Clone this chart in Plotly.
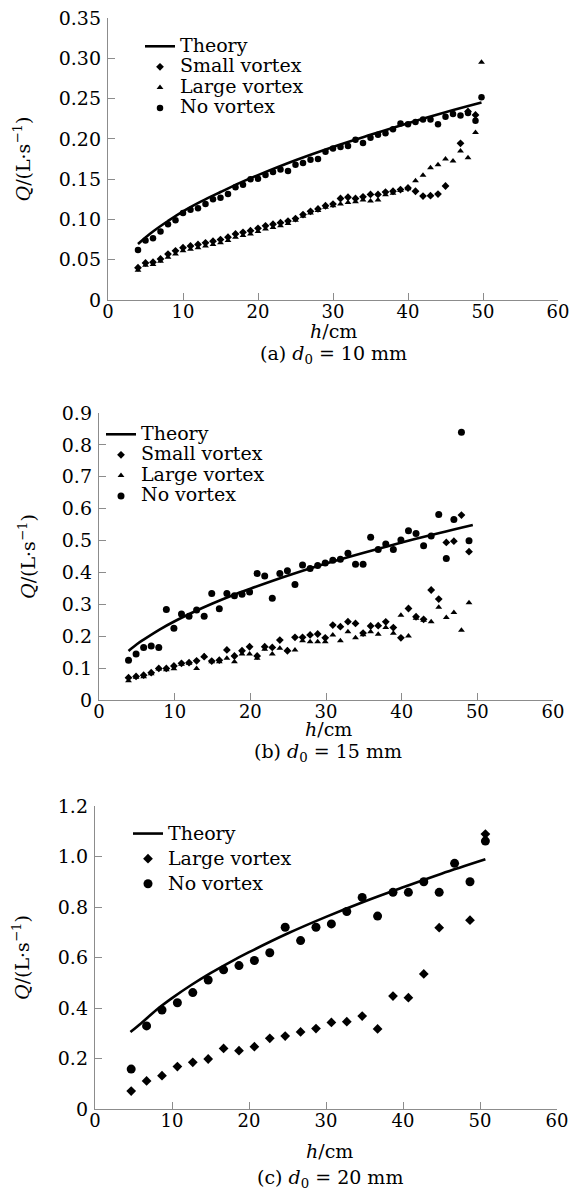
import plotly.graph_objects as go

# ---------------- Panel (a): d0 = 10 mm ----------------
theory_a_h = [4, 5, 6, 8, 10, 12.5, 15, 17.5, 20, 25, 30, 35, 40, 45, 49.8]
theory_a_q = [0.0694, 0.0776, 0.085, 0.098, 0.110, 0.1227, 0.134, 0.145, 0.155,
              0.1735, 0.190, 0.205, 0.2195, 0.233, 0.245]

novortex_a_h = [4, 5, 6, 7, 8, 9, 10, 11, 12, 13, 14, 15, 16, 17, 18, 19, 20, 21, 22, 23,
                24, 25, 26, 27, 28, 29, 30, 31, 32, 33, 34, 35, 36, 37, 38, 39, 40, 41, 42,
                43, 44, 45, 46, 47, 48, 49, 49.8]
novortex_a_q = [0.062, 0.074, 0.0766, 0.085, 0.094, 0.099, 0.108, 0.112, 0.114, 0.119,
                0.125, 0.127, 0.1315, 0.140, 0.143, 0.150, 0.1505, 0.155, 0.159, 0.162,
                0.160, 0.168, 0.170, 0.174, 0.175, 0.184, 0.188, 0.190, 0.191, 0.199,
                0.195, 0.2015, 0.205, 0.207, 0.212, 0.219, 0.218, 0.221, 0.224, 0.224,
                0.218, 0.2275, 0.231, 0.229, 0.232, 0.2225, 0.2515]

small_a_h = [4, 5, 6, 7, 8, 9, 10, 11, 12, 13, 14, 15, 16, 17, 18, 19, 20, 21, 22, 23,
             24, 25, 26, 27, 28, 29, 30, 31, 32, 33, 34, 35, 36, 37, 38, 39, 40, 41, 42,
             43, 44, 45, 47, 48, 49]
small_a_q = [0.040, 0.046, 0.047, 0.051, 0.057, 0.061, 0.065, 0.067, 0.069, 0.071,
             0.073, 0.075, 0.078, 0.082, 0.084, 0.086, 0.089, 0.092, 0.094, 0.096,
             0.098, 0.101, 0.106, 0.110, 0.113, 0.117, 0.119, 0.126, 0.1275, 0.126,
             0.128, 0.131, 0.131, 0.134, 0.135, 0.137, 0.139, 0.135, 0.129, 0.1295,
             0.1315, 0.1415, 0.1945, 0.234, 0.2296]

large_a_h = [4, 5, 6, 7, 8, 9, 10, 11, 12, 13, 14, 15, 16, 17, 18, 19, 20, 21, 22, 23,
             24, 25, 26, 27, 28, 29, 30, 31, 32, 33, 34, 35, 36, 37, 38, 39, 40, 41, 42,
             43, 44, 45, 46, 47, 48, 49, 49.8]
large_a_q = [0.037, 0.043, 0.044, 0.048, 0.053, 0.057, 0.061, 0.063, 0.065, 0.067,
             0.069, 0.071, 0.074, 0.078, 0.080, 0.082, 0.085, 0.088, 0.090, 0.092,
             0.095, 0.099, 0.104, 0.108, 0.111, 0.115, 0.117, 0.119, 0.121, 0.122,
             0.124, 0.123, 0.124, 0.1306, 0.1325, 0.136, 0.138, 0.148, 0.1547, 0.164,
             0.168, 0.175, 0.1725, 0.185, 0.1766, 0.208, 0.295]

# ---------------- Panel (b): d0 = 15 mm ----------------
theory_b_h = [3.9, 5, 6, 8, 10, 12.5, 15, 17.5, 20, 25, 30, 35, 40, 45, 49.4]
theory_b_q = [0.154, 0.175, 0.191, 0.221, 0.247, 0.276, 0.3025, 0.327, 0.349, 0.3905,
              0.428, 0.462, 0.494, 0.524, 0.549]

hb = [3.9, 4.9, 5.9, 6.9, 7.9, 8.9, 9.9, 10.9, 11.9, 12.9, 13.9, 14.9, 15.9, 16.9,
      17.9, 18.9, 19.9, 20.9, 21.9, 22.9, 23.9, 24.9, 25.9, 26.9, 27.9, 28.9, 29.9,
      30.9, 31.9, 32.9, 33.9, 34.9, 35.9, 36.9, 37.9, 38.9, 39.9, 40.9, 41.9, 42.9,
      43.9, 44.9, 45.9, 46.9, 47.9, 48.9]
novortex_b_q = [0.125, 0.144, 0.165, 0.169, 0.165, 0.284, 0.225, 0.270, 0.263, 0.282,
                0.263, 0.334, 0.286, 0.334, 0.327, 0.332, 0.3386, 0.397, 0.389, 0.319,
                0.397, 0.405, 0.362, 0.423, 0.412, 0.422, 0.430, 0.438, 0.441, 0.460,
                0.426, 0.426, 0.510, 0.472, 0.489, 0.472, 0.5015, 0.531, 0.522, 0.484,
                0.514, 0.582, 0.444, 0.566, 0.840, 0.499]
small_b_q = [0.070, 0.074, 0.078, 0.0856, 0.099, 0.099, 0.1066, 0.115, 0.117, 0.123,
             0.136, 0.122, 0.125, 0.157, 0.138, 0.1545, 0.167, 0.138, 0.167, 0.165,
             0.188, 0.1545, 0.1965, 0.1965, 0.204, 0.207, 0.195, 0.235, 0.230, 0.2455,
             0.240, 0.210, 0.232, 0.233, 0.245, 0.227, 0.195, 0.287, 0.261, 0.253,
             0.345, 0.3166, 0.494, 0.498, 0.580, 0.465]
large_b_q = [0.060, 0.071, 0.073, 0.082, 0.097, 0.095, 0.098, 0.112, 0.115, 0.099,
             0.138, 0.120, 0.120, 0.131, 0.120, 0.144, 0.144, 0.131, 0.159, 0.144,
             0.162, 0.157, 0.157, 0.186, 0.183, 0.183, 0.183, 0.204, 0.186, 0.214,
             0.195, 0.205, 0.214, 0.206, 0.227, 0.209, 0.266, 0.2005, 0.256, 0.250,
             0.2455, 0.2905, 0.259, 0.274, 0.219, 0.305]

# ---------------- Panel (c): d0 = 20 mm ----------------
theory_c_h = [4.6, 6, 8, 10, 12.5, 15, 17.5, 20, 25, 30, 35, 40, 45, 50.7]
theory_c_q = [0.305, 0.340, 0.393, 0.439, 0.491, 0.538, 0.581, 0.621, 0.695, 0.761,
              0.822, 0.878, 0.932, 0.989]

novortex_c_h = [4.7, 6.7, 8.7, 10.7, 12.7, 14.7, 16.7, 18.7, 20.7, 22.7, 24.7, 26.7,
                28.7, 30.7, 32.7, 34.7, 36.7, 38.7, 40.7, 42.7, 44.7, 46.7, 48.7, 50.7]
novortex_c_q = [0.158, 0.329, 0.392, 0.421, 0.461, 0.511, 0.551, 0.568, 0.588, 0.619,
                0.720, 0.667, 0.720, 0.733, 0.782, 0.838, 0.764, 0.858, 0.858, 0.900,
                0.858, 0.973, 0.900, 1.061]
large_c_h = [4.7, 6.7, 8.7, 10.7, 12.7, 14.7, 16.7, 18.7, 20.7, 22.7, 24.7, 26.7,
             28.7, 30.7, 32.7, 34.7, 36.7, 38.7, 40.7, 42.7, 44.7, 48.7, 50.7]
large_c_q = [0.071, 0.111, 0.132, 0.168, 0.185, 0.198, 0.240, 0.231, 0.247, 0.280,
             0.289, 0.305, 0.3185, 0.343, 0.346, 0.368, 0.317, 0.4475, 0.441, 0.535,
             0.718, 0.748, 1.089]

x_ticks = [0, 10, 20, 30, 40, 50, 60]
ya_ticks = [0, 0.05, 0.10, 0.15, 0.20, 0.25, 0.30, 0.35]
ya_text = ["0", "0.05", "0.10", "0.15", "0.20", "0.25", "0.30", "0.35"]
yb_ticks = [0, 0.1, 0.2, 0.3, 0.4, 0.5, 0.6, 0.7, 0.8, 0.9]
yb_text = ["0", "0.1", "0.2", "0.3", "0.4", "0.5", "0.6", "0.7", "0.8", "0.9"]
yc_ticks = [0, 0.2, 0.4, 0.6, 0.8, 1.0, 1.2]
yc_text = ["0", "0.2", "0.4", "0.6", "0.8", "1.0", "1.2"]

FONT = "DejaVu Serif"
W, H = 572, 1192
BLACK = "#000000"

fig = go.Figure()

def lbl(name, size):
    return f'<span style="font-size:{size}px">{name}</span>'

def add_panel(i, theory, series, legend, tsize):
    xa = "x" if i == 1 else f"x{i}"
    ya = "y" if i == 1 else f"y{i}"
    fig.add_trace(go.Scatter(x=theory[0], y=theory[1], mode="lines", name=lbl("Theory", tsize),
                             line=dict(color=BLACK, width=2.6, shape="spline"),
                             xaxis=xa, yaxis=ya, legend=legend))
    for name, hx, qy, sym, size in series:
        fig.add_trace(go.Scatter(x=hx, y=qy, mode="markers", name=lbl(name, tsize),
                                 marker=dict(color=BLACK, symbol=sym, size=size),
                                 xaxis=xa, yaxis=ya, legend=legend))

add_panel(1, (theory_a_h, theory_a_q), [
    ("Small vortex", small_a_h, small_a_q, "diamond", 6),
    ("Large vortex", large_a_h, large_a_q, "triangle-up", 6),
    ("No vortex", novortex_a_h, novortex_a_q, "circle", 6.5),
], "legend", 19)
add_panel(2, (theory_b_h, theory_b_q), [
    ("Small vortex", hb, small_b_q, "diamond", 6),
    ("Large vortex", hb, large_b_q, "triangle-up", 6),
    ("No vortex", hb, novortex_b_q, "circle", 7),
], "legend2", 19)
add_panel(3, (theory_c_h, theory_c_q), [
    ("Large vortex", large_c_h, large_c_q, "diamond", 7.5),
    ("No vortex", novortex_c_h, novortex_c_q, "circle", 9),
], "legend3", 19)

def px_x(p):
    return p / W

def px_y(p):
    return 1 - p / H

axis_common = dict(showline=True, linecolor="#8c8c8c", linewidth=1.4, ticks="inside",
                   ticklen=7, tickwidth=1.3, tickcolor="#8c8c8c", showgrid=False,
                   zeroline=False, mirror=False, automargin=False)

ytitle_text = "<i>Q</i>/(L·s<sup>−1</sup>)"
TFONT = dict(family=FONT, size=19, color=BLACK)

panels = [
    (1, (108, 558), (300, 18), [0, 0.35], ya_ticks, ya_text, "y", "x", 23),
    (2, (99, 553), (700, 413), [0, 0.9], yb_ticks, yb_text, "y2", "x2", 21),
    (3, (95, 557), (1109, 806), [0, 1.2], yc_ticks, yc_text, "y3", "x3", 23),
]
layout = {}
for i, (x0, x1), (yb, yt), yr, yt_v, yt_t, yname, xname, ystand in panels:
    sfx = "" if i == 1 else str(i)
    layout[f"xaxis{sfx}"] = dict(axis_common, domain=[px_x(x0), px_x(x1)], range=[0, 60],
                                 tickvals=x_ticks, anchor=yname, ticklabelstandoff=-5,
                                 tickfont=dict(family=FONT, size=18, color=BLACK))
    layout[f"yaxis{sfx}"] = dict(axis_common, domain=[px_y(yb), px_y(yt)], range=yr,
                                 tickvals=yt_v, ticktext=yt_t, anchor=xname,
                                 ticklabelstandoff=2,
                                 tickfont=dict(family=FONT, size=19, color=BLACK),
                                 title=dict(text=ytitle_text, font=TFONT, standoff=ystand))

def leg(x, top, size):
    return dict(font=dict(family=FONT, size=size, color=BLACK), bgcolor="rgba(0,0,0,0)",
                xanchor="left", yanchor="top", tracegroupgap=0, itemwidth=30,
                x=px_x(x), y=px_y(top))

layout["legend"] = leg(140, 31, 13.5)
layout["legend2"] = leg(101, 419, 13.5)
layout["legend3"] = leg(128, 816, 17)

texts = [("<i>h</i>/cm", 333, 331),
         ("(a) <i>d</i><sub>0</sub> = 10 mm", 333, 354),
         ("<i>h</i>/cm", 328, 729),
         ("(b) <i>d</i><sub>0</sub> = 15 mm", 328, 752),
         ("<i>h</i>/cm", 330, 1151),
         ("(c) <i>d</i><sub>0</sub> = 20 mm", 330, 1178)]
annotations = [dict(text=t, x=px_x(cx), y=px_y(cy), xref="paper", yref="paper",
                    showarrow=False, xanchor="center", yanchor="middle",
                    font=TFONT) for t, cx, cy in texts]

fig.update_layout(width=W, height=H, margin=dict(l=0, r=0, t=0, b=0),
                  paper_bgcolor="white", plot_bgcolor="white",
                  annotations=annotations, **layout)

fig.write_html("out.html", config={"displayModeBar": False},
               post_script="document.body.style.margin='0px';document.body.style.padding='0px';")
